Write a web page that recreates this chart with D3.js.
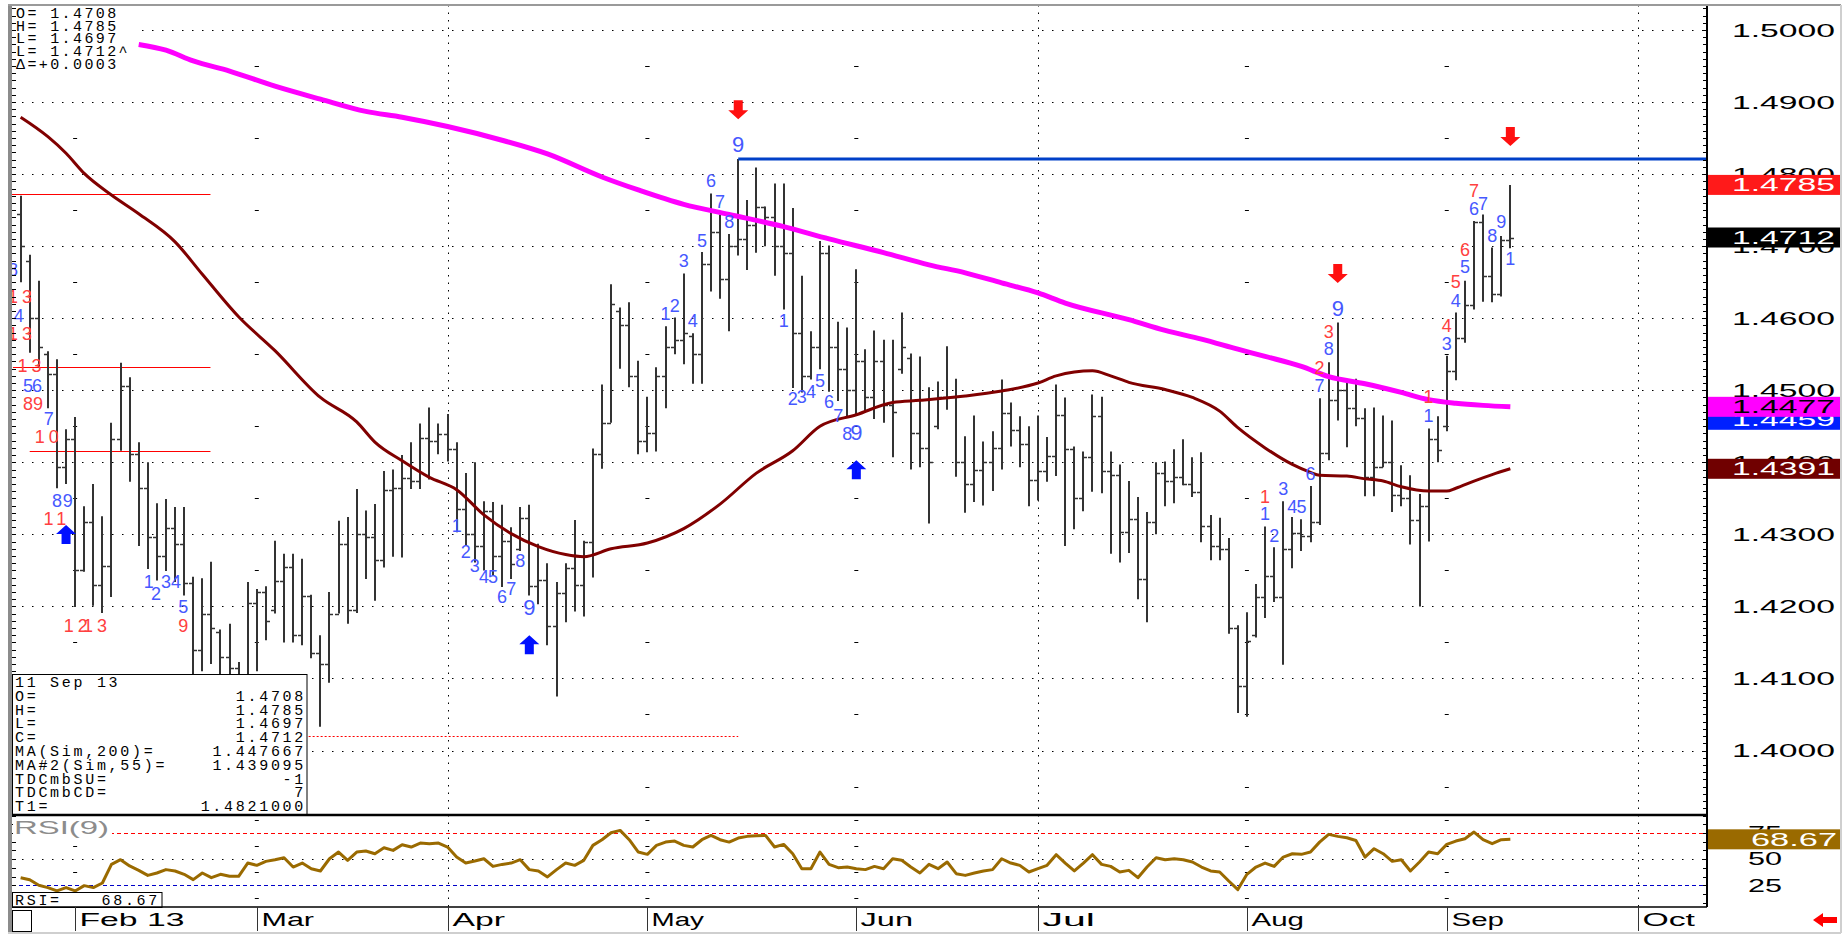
<!DOCTYPE html>
<html>
<head>
<meta charset="utf-8">
<script src="https://cdn.jsdelivr.net/npm/d3@7"></script>
<style>
  body { margin: 0; background: #ffffff; }
  svg  { display: block; }
</style>
</head>
<body>
<div id="chart"></div>
<script>

// ---- Data -------------------------------------------------------------
// One bar per weekday, first bar 24 Jan 2013, last bar 11 Sep 2013
const firstBarDate = new Date(2013, 0, 24);

const opens = [1.4745,1.4680,1.4600,1.4550,1.4523,1.4393,1.4432,1.4250,1.4317,1.4230,
  1.4256,1.4432,1.4506,1.4411,1.4365,1.4297,1.4270,1.4309,1.4287,1.4233,
  1.4140,1.4190,1.4165,1.4130,1.4115,1.4100,1.4205,1.4220,1.4195,1.4235,
  1.4255,1.4160,1.4215,1.4135,1.4120,1.4190,1.4287,1.4195,1.4300,1.4297,
  1.4265,1.4362,1.4365,1.4378,1.4374,1.4434,1.4430,1.4439,1.4418,1.4335,
  1.4300,1.4284,1.4333,1.4270,1.4291,1.4280,1.4323,1.4229,1.4237,1.4173,
  1.4218,1.4253,1.4230,1.4289,1.4412,1.4455,1.4610,1.4590,1.4520,1.4430,
  1.4440,1.4520,1.4560,1.4570,1.4575,1.4550,1.4675,1.4720,1.4655,1.4700,
  1.4710,1.4730,1.4755,1.4740,1.4700,1.4690,1.4580,1.4520,1.4560,1.4690,
  1.4560,1.4530,1.4500,1.4540,1.4490,1.4540,1.4480,1.4530,1.4545,1.4440,
  1.4420,1.4450,1.4490,1.4490,1.4400,1.4370,1.4390,1.4400,1.4420,1.4469,
  1.4445,1.4425,1.4376,1.4388,1.4409,1.4465,1.4419,1.4350,1.4407,1.4464,
  1.4388,1.4383,1.4303,1.4321,1.4238,1.4317,1.4385,1.4374,1.4379,1.4370,
  1.4359,1.4311,1.4284,1.4279,1.4170,1.4090,1.4160,1.4213,1.4242,1.4213,
  1.4279,1.4302,1.4298,1.4317,1.4413,1.4487,1.4500,1.4476,1.4461,1.4380,
  1.4393,1.4400,1.4354,1.4350,1.4320,1.4340,1.4433,1.4450,1.4527,1.4572,
  1.4618,1.4734,1.4658,1.4634,1.4708];

const highs = [1.4770,1.4688,1.4652,1.4554,1.4543,1.4446,1.4463,1.4339,1.4370,1.4325,
  1.4455,1.4538,1.4518,1.4428,1.4400,1.4343,1.4349,1.4338,1.4338,1.4241,
  1.4239,1.4262,1.4168,1.4176,1.4123,1.4234,1.4224,1.4228,1.4291,1.4273,
  1.4273,1.4266,1.4216,1.4160,1.4220,1.4319,1.4324,1.4363,1.4333,1.4342,
  1.4388,1.4390,1.4410,1.4428,1.4454,1.4476,1.4454,1.4467,1.4428,1.4385,
  1.4400,1.4346,1.4345,1.4341,1.4310,1.4338,1.4341,1.4287,1.4260,1.4234,
  1.4260,1.4320,1.4291,1.4419,1.4508,1.4647,1.4615,1.4622,1.4541,1.4491,
  1.4532,1.4589,1.4601,1.4662,1.4579,1.4692,1.4773,1.4744,1.4717,1.4821,
  1.4764,1.4809,1.4755,1.4787,1.4787,1.4753,1.4659,1.4582,1.4707,1.4701,
  1.4595,1.4587,1.4668,1.4557,1.4583,1.4570,1.4570,1.4608,1.4551,1.4547,
  1.4504,1.4512,1.4561,1.4516,1.4436,1.4465,1.4429,1.4443,1.4515,1.4483,
  1.4464,1.4450,1.4465,1.4435,1.4508,1.4490,1.4422,1.4415,1.4494,1.4491,
  1.4415,1.4397,1.4374,1.4352,1.4331,1.4400,1.4401,1.4418,1.4432,1.4407,
  1.4414,1.4327,1.4323,1.4295,1.4174,1.4192,1.4231,1.4311,1.4282,1.4346,
  1.4324,1.4321,1.4367,1.4489,1.4539,1.4594,1.4514,1.4516,1.4475,1.4476,
  1.4465,1.4458,1.4396,1.4382,1.4356,1.4447,1.4464,1.4548,1.4608,1.4652,
  1.4735,1.4744,1.4698,1.4714,1.4785];

const lows = [1.4650,1.4552,1.4532,1.4475,1.4364,1.4370,1.4199,1.4248,1.4201,1.4191,
  1.4213,1.4416,1.4373,1.4284,1.4252,1.4236,1.4249,1.4234,1.4215,1.4100,
  1.4110,1.4120,1.4080,1.4090,1.4070,1.4090,1.4110,1.4153,1.4190,1.4150,
  1.4150,1.4146,1.4128,1.4033,1.4094,1.4190,1.4176,1.4191,1.4238,1.4208,
  1.4254,1.4269,1.4268,1.4363,1.4363,1.4376,1.4411,1.4401,1.4303,1.4284,
  1.4261,1.4250,1.4243,1.4227,1.4238,1.4277,1.4215,1.4203,1.4146,1.4075,
  1.4178,1.4193,1.4186,1.4240,1.4391,1.4455,1.4530,1.4504,1.4411,1.4414,
  1.4415,1.4475,1.4550,1.4536,1.4509,1.4509,1.4637,1.4627,1.4582,1.4687,
  1.4667,1.4691,1.4700,1.4659,1.4612,1.4503,1.4497,1.4515,1.4529,1.4498,
  1.4485,1.4464,1.4467,1.4469,1.4460,1.4455,1.4407,1.4523,1.4390,1.4393,
  1.4315,1.4446,1.4473,1.4380,1.4330,1.4345,1.4340,1.4360,1.4390,1.4422,
  1.4393,1.4339,1.4347,1.4373,1.4381,1.4284,1.4307,1.4332,1.4359,1.4357,
  1.4273,1.4261,1.4274,1.4210,1.4178,1.4300,1.4339,1.4343,1.4368,1.4352,
  1.4289,1.4264,1.4264,1.4162,1.4052,1.4047,1.4157,1.4184,1.4206,1.4119,
  1.4253,1.4277,1.4289,1.4313,1.4403,1.4458,1.4421,1.4450,1.4353,1.4353,
  1.4393,1.4331,1.4339,1.4286,1.4200,1.4290,1.4400,1.4443,1.4514,1.4566,
  1.4612,1.4623,1.4622,1.4630,1.4697];

const closes = [1.4700,1.4600,1.4560,1.4523,1.4393,1.4432,1.4250,1.4317,1.4230,1.4256,
  1.4432,1.4506,1.4411,1.4365,1.4297,1.4270,1.4309,1.4287,1.4233,1.4140,
  1.4190,1.4170,1.4130,1.4115,1.4100,1.4205,1.4220,1.4180,1.4235,1.4255,
  1.4160,1.4215,1.4135,1.4120,1.4190,1.4287,1.4195,1.4300,1.4297,1.4265,
  1.4362,1.4365,1.4378,1.4374,1.4434,1.4430,1.4439,1.4418,1.4335,1.4300,
  1.4284,1.4333,1.4270,1.4291,1.4259,1.4323,1.4229,1.4237,1.4173,1.4218,
  1.4253,1.4230,1.4289,1.4412,1.4455,1.4620,1.4590,1.4520,1.4430,1.4440,
  1.4520,1.4560,1.4570,1.4580,1.4550,1.4675,1.4720,1.4655,1.4700,1.4710,
  1.4730,1.4755,1.4740,1.4700,1.4690,1.4580,1.4520,1.4560,1.4690,1.4560,
  1.4530,1.4500,1.4540,1.4490,1.4540,1.4480,1.4470,1.4560,1.4440,1.4420,
  1.4400,1.4490,1.4490,1.4400,1.4370,1.4390,1.4400,1.4420,1.4469,1.4445,
  1.4425,1.4376,1.4388,1.4409,1.4465,1.4419,1.4350,1.4407,1.4464,1.4388,
  1.4383,1.4303,1.4321,1.4238,1.4317,1.4385,1.4374,1.4379,1.4370,1.4359,
  1.4311,1.4284,1.4279,1.4170,1.4090,1.4152,1.4213,1.4242,1.4213,1.4279,
  1.4302,1.4298,1.4317,1.4413,1.4487,1.4500,1.4476,1.4461,1.4380,1.4393,
  1.4400,1.4354,1.4350,1.4320,1.4340,1.4433,1.4417,1.4527,1.4572,1.4618,
  1.4734,1.4658,1.4634,1.4708,1.4712];

const rsiValues = [32.0,30.1,24.7,22.5,19.3,22.5,19.3,24.4,22.5,26.9,
  44.7,49.2,43.2,39.0,34.2,36.5,39.7,38.4,35.2,30.1,
  36.5,32.0,35.2,33.3,33.3,46.0,43.8,47.6,49.2,51.1,
  42.2,46.0,40.6,38.4,50.1,56.5,48.6,56.5,57.5,54.9,
  60.6,58.1,63.5,61.3,65.1,64.5,65.1,61.3,51.7,46.0,
  47.9,50.1,42.8,44.7,46.0,49.2,39.7,38.4,32.7,39.7,
  46.0,43.8,48.6,62.9,68.3,75.0,77.2,68.3,56.5,54.3,
  62.9,66.0,67.0,62.9,61.3,68.3,72.4,68.3,66.0,69.9,
  71.5,72.1,72.4,61.3,63.8,54.9,40.6,40.6,56.5,44.7,
  41.6,42.2,40.6,39.7,42.8,40.6,50.1,48.6,42.2,36.5,
  44.7,40.6,47.0,35.8,34.2,36.5,38.4,39.7,50.1,46.0,
  43.8,37.4,40.6,43.8,54.0,46.0,38.4,46.0,54.0,44.7,
  42.8,37.4,39.0,32.0,42.2,51.1,49.2,50.1,49.2,47.0,
  42.2,38.4,37.4,28.8,20.6,35.2,42.2,46.0,42.8,51.7,
  54.9,54.3,56.5,66.0,73.4,71.5,70.2,67.6,51.7,59.7,
  54.9,47.6,49.2,38.4,47.0,56.5,54.9,63.8,67.0,69.2,
  75.6,68.3,64.5,68.3,68.67];

// moving averages as [bar index, value]
const ma200Points = [[13,1.4980],[16,1.4972],[19,1.4957],[23,1.4943],[28,1.4922],[33,1.4904],
  [38,1.4887],[42,1.4879],[47,1.4866],[53,1.4847],[58,1.4828],[64,1.4796],[68,1.4778],
  [73,1.4758],[78,1.4744],[84,1.4727],[89,1.4710],[95,1.4691],[100,1.4674],[104,1.4663],
  [108,1.4649],[112,1.4635],[115,1.4621],[122,1.4598],[126,1.4583],[130,1.4571],[134,1.4557],
  [137,1.4547],[141,1.4533],[144,1.4519],[148,1.4509],[152,1.4497],[155,1.4487],[158,1.4482],
  [161,1.4479],[164,1.4477]];

const ma55Points = [[0,1.4879],[3,1.4852],[5,1.4829],[7,1.4801],[10,1.4771],[13,1.4745],
  [17,1.4706],[20,1.4661],[24,1.4602],[28,1.4555],[33,1.4490],[37,1.4456],[39,1.4428],
  [42,1.4402],[45,1.4379],[48,1.4362],[51,1.4327],[54,1.4301],[57,1.4283],[60,1.4272],
  [62,1.4269],[65,1.4280],[69,1.4288],[73,1.4308],[77,1.4342],[81,1.4385],[85,1.4416],
  [88,1.4450],[92,1.4466],[96,1.4483],[99,1.4486],[104,1.4492],[108,1.4499],[112,1.4510],
  [114,1.4520],[118,1.4527],[120,1.4520],[122,1.4511],[126,1.4501],[129,1.4490],[132,1.4471],
  [134,1.4448],[137,1.4420],[140,1.4397],[142,1.4386],[143,1.4382],[146,1.4381],[148,1.4377],
  [150,1.4374],[152,1.4366],[155,1.4360],[157,1.4360],[158,1.4364],[160,1.4374],[162,1.4383],
  [164,1.4391]];

// TD counts: [bar index, price level of baseline, text, colour key]
const tdLabels = [
  [-0.85,1.4659,'8','b'],[0.15,1.4621,'13','r'],[-0.2,1.4595,'4','b'],[0.15,1.4570,'13','r'],
  [1.2,1.4525,'13','r'],[0.8,1.4498,'5','b'],[1.8,1.4498,'6','b'],[0.8,1.4473,'8','r'],
  [1.9,1.4473,'9','r'],[3.1,1.4452,'7','b'],[3.1,1.4427,'10','r'],[4,1.4338,'8','b'],
  [5.2,1.4338,'9','b'],[4,1.4313,'11','r'],[6.3,1.4165,'12','r'],[8.4,1.4165,'13','r'],
  [14.1,1.4226,'1','b'],[14.9,1.4209,'2','b'],[16,1.4226,'3','b'],[17.1,1.4226,'4','b'],
  [17.9,1.4191,'5','b'],[17.9,1.4165,'9','r'],
  [48,1.4303,'1','b'],[49,1.4267,'2','b'],[50,1.4248,'3','b'],[51,1.4232,'4','b'],
  [52,1.4232,'5','b'],[53,1.4205,'6','b'],[54,1.4216,'7','b'],[55,1.4255,'8','b'],[56,1.4188,'9','b'],
  [71,1.4598,'1','b'],[72,1.4609,'2','b'],[73,1.4671,'3','b'],[74,1.4588,'4','b'],
  [75,1.4699,'5','b'],[76,1.4782,'6','b'],[77,1.4753,'7','b'],[78,1.4725,'8','b'],[79,1.4831,'9','b'],
  [84,1.4588,'1','b'],[85,1.4480,'2','b'],[86,1.4482,'3','b'],[87,1.4489,'4','b'],
  [88,1.4505,'5','b'],[89,1.4475,'6','b'],[90,1.4456,'7','b'],[91,1.4431,'8','b'],[92,1.4431,'9','b'],
  [137,1.4344,'1','r'],[137,1.4320,'1','b'],[138,1.4289,'2','b'],[139,1.4355,'3','b'],
  [140,1.4330,'4','b'],[141,1.4330,'5','b'],[142,1.4375,'6','b'],[143,1.4523,'2','r'],
  [143,1.4498,'7','b'],[144,1.4573,'3','r'],[144,1.4549,'8','b'],[145,1.4603,'9','b'],
  [155,1.4482,'1','r'],[155,1.4456,'1','b'],[157,1.4581,'4','r'],[157,1.4556,'3','b'],
  [158,1.4642,'5','r'],[158,1.4616,'4','b'],[159,1.4686,'6','r'],[159,1.4663,'5','b'],
  [160,1.4768,'7','r'],[160,1.4743,'6','b'],[161,1.4750,'7','b'],[162,1.4706,'8','b'],
  [163,1.4725,'9','b'],[164,1.4674,'1','b']
];

// signal arrows: [bar index, tip price, direction]
const arrows = [[5,1.4313,'up'],[56,1.4160,'up'],[92,1.4403,'up'],
  [79,1.4876,'down'],[145,1.4649,'down'],[164,1.4839,'down']];

// thin red TD lines: [price, from bar, to bar]
const redLines = [[1.4772,-0.95,20.9],[1.4532,-0.85,20.9],[1.4415,1.0,20.9]];
const redDotted = [1.4020, 0, 79];
const targetLine = [1.4821, 79];

const priceLevels = [1.40,1.41,1.42,1.43,1.44,1.45,1.46,1.47,1.48,1.49,1.50];
const rsiLevels   = [25, 50, 75];
const monthNames  = ['Feb 13','Mar','Apr','May','Jun','Jul','Aug','Sep','Oct'];

const lastValues  = [1.4785, 1.4712, 1.4459, 1.4477, 1.4391];
const lastRsi     = 68.67;

const headerLines = ['O= 1.4708','H= 1.4785','L= 1.4697','L= 1.4712^','\u0394=+0.0003'];
const infoRows = [['11 Sep 13',''],['O=','1.4708'],['H=','1.4785'],['L=','1.4697'],['C=','1.4712'],
  ['MA(Sim,200)=','1.447667'],['MA#2(Sim,55)=','1.439095'],['TDCmbSU=','-1'],
  ['TDCmbCD=','7'],['T1=','1.4821000']];

// ---- Layout ------------------------------------------------------------
const widthContainer = 1848, heightContainer = 937;
const plotLeft = 12, plotRight = 1707, plotTop = 5;
const mainBottom = 815, rsiBottom = 907, dateBottom = 933;
const sans = '"Liberation Sans", Arial, sans-serif';
const mono = '"Liberation Mono", "DejaVu Sans Mono", monospace';
const blueText = '#4658ff', redText = '#ff4040';

// trading calendar (weekdays) used for the month separators
const calendar = d3.timeDay.range(firstBarDate, new Date(2013, 9, 25))
  .filter(d => d.getDay() > 0 && d.getDay() < 6);
const months = d3.timeMonth.range(new Date(2013, 1, 1), new Date(2013, 10, 1)).map((m, k) => ({
  label: monthNames[k],
  idx: calendar.findIndex(d => d >= m),
  quarter: [0, 3, 6, 9].includes(m.getMonth())
}));

const xScale   = d3.scaleLinear().domain([-0.95, 185.65]).range([plotLeft, plotRight]);
const yScale   = d3.scaleLinear().domain([1.40, 1.50]).range([750.5, 30]);
const rsiScale = d3.scaleLinear().domain([25, 75]).range([885, 832.7]);
const px = v => Math.round(v) + 0.5;

const svg = d3.select('#chart').append('svg')
  .attr('width', widthContainer)
  .attr('height', heightContainer)
  .style('font-family', sans);

svg.append('rect').attr('width', widthContainer).attr('height', heightContainer).attr('fill', '#fff');

const defs = svg.append('defs');
defs.append('clipPath').attr('id', 'clipMain').append('rect')
  .attr('x', plotLeft).attr('y', plotTop).attr('width', plotRight - plotLeft).attr('height', mainBottom - plotTop);
defs.append('clipPath').attr('id', 'clipRsi').append('rect')
  .attr('x', plotLeft).attr('y', mainBottom).attr('width', plotRight - plotLeft).attr('height', rsiBottom - mainBottom);

// ---- Main price panel --------------------------------------------------
const main = svg.append('g').attr('clip-path', 'url(#clipMain)');

// dotted price grid
main.selectAll('.grid').data(priceLevels).enter().append('line')
  .attr('x1', plotLeft).attr('x2', plotRight)
  .attr('y1', d => px(yScale(d))).attr('y2', d => px(yScale(d)))
  .attr('stroke', '#000').attr('stroke-width', 1).attr('stroke-dasharray', '1.5 8.5');

// quarter months: dotted vertical lines, other months: small dashes at half levels
months.filter(m => m.quarter).forEach(m => {
  main.append('line')
    .attr('x1', px(xScale(m.idx))).attr('x2', px(xScale(m.idx)))
    .attr('y1', plotTop).attr('y2', mainBottom)
    .attr('stroke', '#000').attr('stroke-dasharray', '1.5 6');
});
const halfLevels = priceLevels.map(v => v - 0.005).concat([1.495]);
months.filter(m => !m.quarter).forEach(m => {
  main.selectAll(null).data(halfLevels).enter().append('line')
    .attr('x1', xScale(m.idx) - 2).attr('x2', xScale(m.idx) + 2)
    .attr('y1', d => px(yScale(d))).attr('y2', d => px(yScale(d)))
    .attr('stroke', '#000');
});

// red TD lines
main.selectAll('.redline').data(redLines).enter().append('line')
  .attr('x1', d => xScale(d[1])).attr('x2', d => xScale(d[2]))
  .attr('y1', d => px(yScale(d[0]))).attr('y2', d => px(yScale(d[0])))
  .attr('stroke', '#ff0000').attr('stroke-width', 1);
main.append('line')
  .attr('x1', xScale(redDotted[1])).attr('x2', xScale(redDotted[2]))
  .attr('y1', px(yScale(redDotted[0]))).attr('y2', px(yScale(redDotted[0])))
  .attr('stroke', '#ff0000').attr('stroke-dasharray', '2 2');

// OHLC bars
const barData = highs.map((h, i) => ({i, o: opens[i], h, l: lows[i], c: closes[i]}));
const barG = main.append('g').attr('stroke', '#333');
barData.forEach(d => {
  const x = Math.round(xScale(d.i));
  barG.append('line').attr('x1', x).attr('x2', x)
    .attr('y1', yScale(d.h)).attr('y2', yScale(d.l)).attr('stroke-width', 2);
  barG.append('line').attr('x1', x - 4).attr('x2', x)
    .attr('y1', px(yScale(d.o))).attr('y2', px(yScale(d.o))).attr('stroke-width', 1.5);
  barG.append('line').attr('x1', x).attr('x2', x + 4)
    .attr('y1', px(yScale(d.c))).attr('y2', px(yScale(d.c))).attr('stroke-width', 1.5);
});

// moving averages
const maLine = d3.line().x(d => xScale(d[0])).y(d => yScale(d[1])).curve(d3.curveMonotoneX);
main.append('path').datum(ma55Points).attr('d', maLine)
  .attr('fill', 'none').attr('stroke', '#800000').attr('stroke-width', 3).attr('stroke-linejoin', 'round');
main.append('path').datum(ma200Points).attr('d', maLine)
  .attr('fill', 'none').attr('stroke', '#ff00ff').attr('stroke-width', 5).attr('stroke-linejoin', 'round');

// T1 target line
main.append('line')
  .attr('x1', xScale(targetLine[1])).attr('x2', plotRight)
  .attr('y1', yScale(targetLine[0])).attr('y2', yScale(targetLine[0]))
  .attr('stroke', '#0040c8').attr('stroke-width', 3);

// TD count numbers
const arrowBars = arrows.map(a => a[0]);
main.selectAll('.td').data(tdLabels).enter().append('text')
  .attr('x', d => xScale(d[0]))
  .attr('y', d => yScale(d[1]))
  .attr('text-anchor', 'middle')
  .style('font-size', d => (d[2] === '9' && arrowBars.includes(d[0])) ? '22px' : '18px')
  .style('letter-spacing', d => d[2].length > 1 ? '4px' : '0px')
  .attr('fill', d => d[3] === 'b' ? blueText : redText)
  .text(d => d[2]);

// signal arrows
main.selectAll('.arrow').data(arrows).enter().append('path')
  .attr('fill', d => d[2] === 'up' ? '#0010ff' : '#ff1010')
  .attr('d', d => {
    const x = xScale(d[0]), t = yScale(d[1]);
    const s = d[2] === 'up' ? 1 : -1;
    return `M${x},${t} L${x + 10},${t + 9 * s} L${x + 4.5},${t + 9 * s} L${x + 4.5},${t + 19 * s}` +
           ` L${x - 4.5},${t + 19 * s} L${x - 4.5},${t + 9 * s} L${x - 10},${t + 9 * s} Z`;
  });

// header legend (top left)
main.append('rect').attr('x', plotLeft).attr('y', plotTop).attr('width', 123).attr('height', 66).attr('fill', '#fff');
main.selectAll('.hdr').data(headerLines).enter().append('text')
  .attr('x', 16).attr('y', (d, k) => 18 + k * 12.7)
  .style('font-family', mono).style('font-size', '15px').style('letter-spacing', '2.4px')
  .attr('fill', '#000').text(d => d);

// ---- RSI panel content ---------------------------------------------------
const rsi = svg.append('g').attr('clip-path', 'url(#clipRsi)');
months.filter(m => m.quarter).forEach(m => {
  rsi.append('line')
    .attr('x1', px(xScale(m.idx))).attr('x2', px(xScale(m.idx)))
    .attr('y1', mainBottom).attr('y2', rsiBottom)
    .attr('stroke', '#000').attr('stroke-dasharray', '1.5 6');
});
months.filter(m => !m.quarter).forEach(m => {
  rsi.selectAll(null).data([12.5, 37.5, 62.5, 87.5]).enter().append('line')
    .attr('x1', xScale(m.idx) - 2).attr('x2', xScale(m.idx) + 2)
    .attr('y1', d => px(rsiScale(d))).attr('y2', d => px(rsiScale(d)))
    .attr('stroke', '#000');
});
rsi.append('line').attr('x1', plotLeft).attr('x2', plotRight)
  .attr('y1', px(rsiScale(50))).attr('y2', px(rsiScale(50)))
  .attr('stroke', '#000').attr('stroke-dasharray', '1.5 8.5');
rsi.append('line').attr('x1', plotLeft).attr('x2', plotRight)
  .attr('y1', px(rsiScale(75))).attr('y2', px(rsiScale(75)))
  .attr('stroke', '#ff0000').attr('stroke-dasharray', '4 3');
rsi.append('line').attr('x1', plotLeft).attr('x2', plotRight)
  .attr('y1', px(rsiScale(25))).attr('y2', px(rsiScale(25)))
  .attr('stroke', '#0000c8').attr('stroke-dasharray', '4 3');

rsi.append('path').datum(rsiValues)
  .attr('d', d3.line().x((d, i) => xScale(i)).y(d => rsiScale(d)))
  .attr('fill', 'none').attr('stroke', '#9a6a00').attr('stroke-width', 3).attr('stroke-linejoin', 'round');

// ---- Minor ticks on both value axes (under the boxes) --------------------
const ticks = svg.append('g');
const priceTicks = d3.range(1392, 1504).map(v => v / 1000);
[[plotLeft, 4], [plotRight, -4]].forEach(([x0, len]) => {
  ticks.selectAll(null).data(priceTicks).enter().append('line')
    .attr('x1', x0).attr('x2', x0 + len)
    .attr('y1', d => px(yScale(d))).attr('y2', d => px(yScale(d)))
    .attr('stroke', '#000');
  ticks.selectAll(null).data(d3.range(8, 92, 25 / 3)).enter().append('line')
    .attr('x1', x0).attr('x2', x0 + len)
    .attr('y1', d => px(rsiScale(d))).attr('y2', d => px(rsiScale(d)))
    .attr('stroke', '#000');
});

// ---- Boxes on top of the panels -----------------------------------------
// data window (bottom left)
const info = svg.append('g');
info.append('rect').attr('x', 12.5).attr('y', 674.5).attr('width', 294.5).attr('height', 140)
  .attr('fill', '#fff').attr('stroke', '#000');
infoRows.forEach((r, k) => {
  const y = 687 + k * 13.8;
  info.append('text').attr('x', 15).attr('y', y)
    .style('font-family', mono).style('font-size', '15px').style('letter-spacing', '2.7px').text(r[0]);
  info.append('text').attr('x', 306).attr('y', y).attr('text-anchor', 'end')
    .style('font-family', mono).style('font-size', '15px').style('letter-spacing', '2.7px').text(r[1]);
});

// RSI title and value box
info.append('rect').attr('x', plotLeft + 1).attr('y', 817).attr('width', 99).attr('height', 21).attr('fill', '#fff');
info.append('text').attr('x', 14).attr('y', 834)
  .attr('textLength', 95).attr('lengthAdjust', 'spacingAndGlyphs')
  .style('font-size', '19px').attr('fill', '#8c8c8c').text('RSI(9)');
info.append('rect').attr('x', 12.5).attr('y', 892.5).attr('width', 149.5).attr('height', 15)
  .attr('fill', '#fff').attr('stroke', '#000');
info.append('text').attr('x', 15).attr('y', 905)
  .style('font-family', mono).style('font-size', '15px').style('letter-spacing', '2.7px').text('RSI=');
info.append('text').attr('x', 160).attr('y', 905).attr('text-anchor', 'end')
  .style('font-family', mono).style('font-size', '15px').style('letter-spacing', '2.7px').text(lastRsi.toFixed(2));

// ---- Axes and frame ----------------------------------------------------
const axes = svg.append('g');

axes.append('line').attr('x1', plotLeft).attr('x2', plotRight).attr('y1', mainBottom).attr('y2', mainBottom)
  .attr('stroke', '#000').attr('stroke-width', 2.5);
axes.append('line').attr('x1', plotLeft).attr('x2', plotRight).attr('y1', rsiBottom).attr('y2', rsiBottom)
  .attr('stroke', '#000').attr('stroke-width', 1.5);
axes.append('line').attr('x1', plotRight).attr('x2', plotRight).attr('y1', plotTop).attr('y2', rsiBottom)
  .attr('stroke', '#000').attr('stroke-width', 2);

// outer frame
axes.append('rect').attr('x', 8).attr('y', plotTop - 1).attr('width', 4).attr('height', dateBottom - plotTop + 1).attr('fill', '#8c8c8c');
axes.append('line').attr('x1', 8).attr('x2', 1841).attr('y1', plotTop).attr('y2', plotTop).attr('stroke', '#9a9a9a').attr('stroke-width', 2);
axes.append('line').attr('x1', 1841).attr('x2', 1841).attr('y1', plotTop).attr('y2', dateBottom).attr('stroke', '#cfcfcf').attr('stroke-width', 2);
axes.append('line').attr('x1', 8).attr('x2', 1841).attr('y1', dateBottom).attr('y2', dateBottom).attr('stroke', '#cfcfcf').attr('stroke-width', 2);

// right price labels
axes.selectAll('.plabel').data(priceLevels).enter().append('text')
  .attr('x', 1835).attr('y', d => yScale(d) + 6.5)
  .attr('text-anchor', 'end').attr('textLength', 103).attr('lengthAdjust', 'spacingAndGlyphs')
  .style('font-size', '18px').attr('fill', '#000')
  .text(d => d3.format('.4f')(d));

axes.selectAll('.rlabel').data(rsiLevels).enter().append('text')
  .attr('x', 1748).attr('y', d => rsiScale(d) + 6.5)
  .attr('textLength', 34).attr('lengthAdjust', 'spacingAndGlyphs')
  .style('font-size', '18px').attr('fill', '#000')
  .text(d => d);

// last-value boxes
const boxFill = ['#ff1a1a', '#000000', '#0020ff', '#ff00ff', '#700000'];
const boxText = ['#ffffff', '#ffffff', '#ffffff', '#000000', '#ffffff'];
lastValues.forEach((v, k) => {
  const y = yScale(v);
  axes.append('rect').attr('x', 1708).attr('y', y - 10).attr('width', 132).attr('height', 20).attr('fill', boxFill[k]);
  axes.append('text').attr('x', 1835).attr('y', y + 6.5)
    .attr('text-anchor', 'end').attr('textLength', 103).attr('lengthAdjust', 'spacingAndGlyphs')
    .style('font-size', '18px').attr('fill', boxText[k]).text(d3.format('.4f')(v));
});
axes.append('rect').attr('x', 1708).attr('y', rsiScale(lastRsi) - 10).attr('width', 132).attr('height', 20).attr('fill', '#9a6a00');
axes.append('text').attr('x', 1837).attr('y', rsiScale(lastRsi) + 6.5)
  .attr('text-anchor', 'end').attr('textLength', 86).attr('lengthAdjust', 'spacingAndGlyphs')
  .style('font-size', '18px').attr('fill', '#fff').text(lastRsi.toFixed(2));

// date row
axes.append('rect').attr('x', 12.5).attr('y', 910.5).attr('width', 19).attr('height', 21)
  .attr('fill', 'none').attr('stroke', '#000');
months.forEach(m => {
  const x = px(xScale(m.idx));
  axes.append('line').attr('x1', x).attr('x2', x).attr('y1', rsiBottom).attr('y2', dateBottom - 2)
    .attr('stroke', '#333');
  axes.append('text').attr('x', x + 4).attr('y', 926)
    .attr('textLength', m.label.length * 17.5).attr('lengthAdjust', 'spacingAndGlyphs')
    .style('font-size', '18px').attr('fill', '#000').text(m.label);
});

// scroll arrow, bottom right
axes.append('path').attr('d', 'M1813,920 L1823,913 L1823,917 L1837,917 L1837,923 L1823,923 L1823,927 Z')
  .attr('fill', '#ff0000');

</script>
</body>
</html>
